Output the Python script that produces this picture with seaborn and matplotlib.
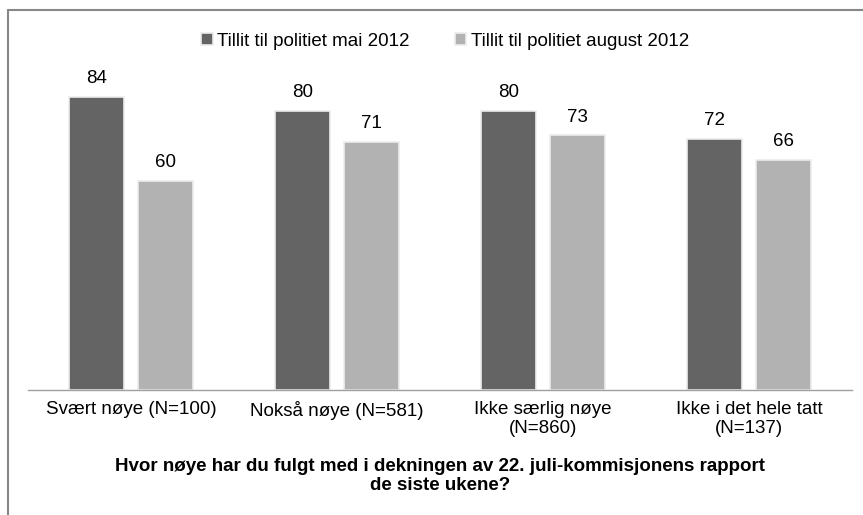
import matplotlib
matplotlib.use("Agg")
import matplotlib.pyplot as plt
import seaborn as sns
import pandas as pd
from matplotlib.lines import Line2D

categories = ["Svært nøye (N=100)", "Nokså nøye (N=581)", "Ikke særlig nøye\n(N=860)", "Ikke i det hele tatt\n(N=137)"]
series_names = ["Tillit til politiet mai 2012", "Tillit til politiet august 2012"]
mai_2012 = [84, 80, 80, 72]
august_2012 = [60, 71, 73, 66]
xlabel = "Hvor nøye har du fulgt med i dekningen av 22. juli-kommisjonens rapport\nde siste ukene?"

df = pd.DataFrame({
    "kategori": categories * 2,
    "serie": [series_names[0]] * 4 + [series_names[1]] * 4,
    "verdi": mai_2012 + august_2012,
})

sns.set_theme(style="white")
plt.rcParams["font.family"] = ["Liberation Sans", "DejaVu Sans"]
plt.rcParams["text.color"] = "#000000"

FS = 13.5

fig = plt.figure(figsize=(8.63, 5.15), dpi=100)
ax = fig.add_axes([28 / 863, 1 - 390 / 515, 824 / 863, 349 / 515])

palette = {series_names[0]: "#646464", series_names[1]: "#b2b2b2"}
sns.barplot(data=df, x="kategori", y="verdi", hue="serie", palette=palette,
            width=0.67, gap=0.21, ax=ax, saturation=1, edgecolor="#ececec", linewidth=1.2)

for c in ax.containers:
    ax.bar_label(c, padding=7, fontsize=FS, color="#000000")

ax.set_ylim(0, 100)
ax.set_xlim(-0.5, 3.5)
ax.set_yticks([])
ax.set_ylabel("")
for s in ["top", "right", "left"]:
    ax.spines[s].set_visible(False)
ax.spines["bottom"].set_color("#a0a0a0")
ax.spines["bottom"].set_linewidth(1.0)
ax.tick_params(axis="x", length=0, pad=8, labelsize=FS, colors="#000000")
for t in ax.get_xticklabels():
    t.set_linespacing(1.15)
ax.set_xlabel(xlabel, fontsize=FS, fontweight="bold", labelpad=15, linespacing=1.15, color="#000000")

handles, labels = ax.get_legend_handles_labels()
ax.legend_.remove()
fig.legend(handles, labels, loc="center", bbox_to_anchor=(0.516, 0.92), ncol=2,
           frameon=False, fontsize=FS, handlelength=0.6, handleheight=0.6,
           handletextpad=0.25, columnspacing=2.4)

# outer frame (left and top visible)
fig.add_artist(Line2D([8 / 863, 8 / 863], [0, 1 - 10 / 515], transform=fig.transFigure,
                      color="#878787", linewidth=1.5))
fig.add_artist(Line2D([8 / 863, 1.0], [1 - 10 / 515, 1 - 10 / 515], transform=fig.transFigure,
                      color="#878787", linewidth=1.5))

fig.savefig("out.png", dpi=100)
